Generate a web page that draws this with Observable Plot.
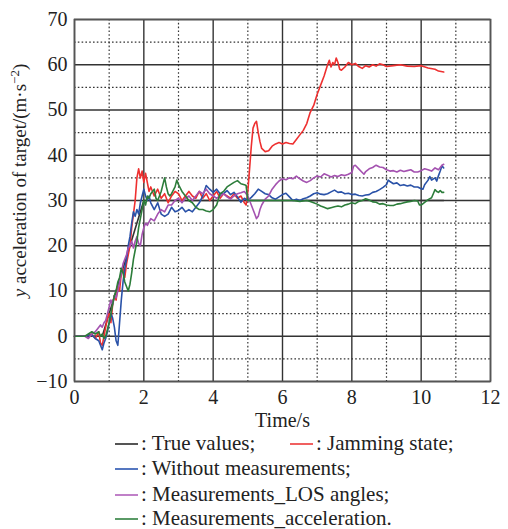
<!DOCTYPE html>
<html>
<head>
<meta charset="utf-8">
<script src="https://cdn.jsdelivr.net/npm/d3@7"></script>
<script src="https://cdn.jsdelivr.net/npm/@observablehq/plot@0.6"></script>
<style>
  body { margin: 0; background: #fff; font-family: "Liberation Serif", "Times New Roman", Times, "DejaVu Serif", serif; }
  #wrap { position: relative; width: 508px; height: 529px; }
  .lg { position: absolute; font-size: 21px; color: #222; white-space: nowrap; line-height: 24px; font-family: "Liberation Serif", "Times New Roman", Times, "DejaVu Serif", serif; }
  .lg span.sw { display: inline-block; width: 23px; height: 0; border-top: 2px solid; vertical-align: middle; margin-right: 3px; position: relative; top: -1px; }
  svg text { font-family: "Liberation Serif", "Times New Roman", Times, "DejaVu Serif", serif; }
</style>
</head>
<body>
<div id="wrap"></div>
<script>
// ---- Data ----
const xTicks = [0, 2, 4, 6, 8, 10, 12];
const yTicks = [-10, 0, 10, 20, 30, 40, 50, 60, 70];
const xMinor = [1, 3, 5, 7, 9, 11];
const yMinor = [-5, 5, 15, 25, 35, 45, 55, 65];

const seriesNames = ["True values", "Jamming state", "Without measurements", "Measurements_LOS angles", "Measurements_acceleration"];
const seriesColors = ["#333333", "#ee3030", "#2a52a8", "#a452b0", "#2c7d3a"];

const trueT = [0, 0.8, 2.0, 10.65];
const trueV = [0, 0, 30, 30];

const jamT = [0,0.3,0.5,0.6,0.7,0.75,0.8,0.85,0.9,0.95,1.0,1.05,1.1,1.15,1.2,1.25,1.3,1.35,1.4,1.45,1.5,1.55,1.6,1.65,1.7,1.75,1.8,1.85,1.9,1.95,2.0,2.05,2.1,2.15,2.2,2.3,2.4,2.5,2.6,2.7,2.8,2.9,3.0,3.1,3.2,3.3,3.4,3.5,3.6,3.7,3.8,3.9,4.0,4.1,4.2,4.3,4.4,4.5,4.6,4.7,4.8,4.9,4.95,5.0,5.05,5.1,5.15,5.2,5.25,5.3,5.35,5.4,5.5,5.6,5.7,5.8,5.9,6.0,6.1,6.2,6.3,6.4,6.5,6.6,6.7,6.8,6.9,7.0,7.1,7.2,7.3,7.35,7.4,7.45,7.5,7.55,7.6,7.65,7.7,7.8,7.9,8.0,8.1,8.2,8.3,8.4,8.5,8.6,8.7,8.8,8.9,9.0,9.2,9.4,9.6,9.8,10.0,10.2,10.4,10.5,10.65];
const jamV = [0,0,0.5,-0.5,1,-1.5,-2,0,2,4,5,3,7,9,8,11,10,14,15,13,16,18,20,24,27,30,35,37,35,36.5,34,36,34,32,33,31,32.5,30.5,31.5,29.5,31,32,31.5,30,31,32,31,30.5,32,30.5,31.5,30,31,32,30.5,31.5,31,30.5,31.5,30.5,31,29.5,29,32,37,42,46,47,47.5,45,43,41.5,40.8,41,42,42.5,42.8,42.5,42.8,42.6,42.5,43.5,44.5,45.5,47,49.5,51,53.5,55.5,57.5,60,61,59.5,60.5,60,61.5,60.5,59,58.8,59.5,60.5,60,60.3,59.6,59.2,59.8,59.5,60,59.7,60.2,60,59.6,59.8,60,59.7,59.6,59.8,59.3,59,58.6,58.4];

const noMeasT = [0,0.3,0.5,0.6,0.7,0.75,0.8,0.85,0.9,0.95,1.0,1.05,1.1,1.15,1.2,1.25,1.3,1.35,1.4,1.45,1.5,1.55,1.6,1.65,1.7,1.75,1.8,1.85,1.9,1.95,2.0,2.05,2.1,2.15,2.2,2.3,2.4,2.5,2.6,2.7,2.8,2.9,3.0,3.1,3.2,3.3,3.4,3.5,3.6,3.7,3.8,3.9,4.0,4.1,4.2,4.3,4.4,4.5,4.6,4.7,4.8,4.9,5.0,5.1,5.2,5.3,5.4,5.5,5.6,5.7,5.8,5.9,6.0,6.1,6.2,6.3,6.4,6.5,6.6,6.7,6.8,6.9,7.0,7.1,7.2,7.3,7.4,7.5,7.6,7.7,7.8,7.9,8.0,8.1,8.2,8.3,8.4,8.5,8.6,8.7,8.8,8.9,9.0,9.05,9.1,9.2,9.3,9.4,9.5,9.6,9.7,9.8,9.9,10.0,10.05,10.1,10.2,10.25,10.3,10.4,10.45,10.5,10.55,10.6,10.65];
const noMeasV = [0,0,0.3,-0.5,-1,-2,-3,-1.5,-0.5,1,3,5,4,2,-1,-2,3,8,12,15,17,20,22,25,27.5,26.5,28,27,29.5,31,32.5,31,30,31,29.5,28,29.5,27,26.5,27,28.5,27.5,27.8,28.5,27.5,28,27.5,28.5,29.5,31,33.3,32.5,31.8,32.5,31.5,31.5,32.2,31.3,31.8,30.8,29.6,30.5,30,30.7,31.5,32.5,32,31.5,31.3,30.6,30.3,30.8,31.3,31.6,30.8,30,30.3,30,30.4,30.6,31,31.5,31.7,31.4,31.3,31.5,31.9,32.3,31.8,31.9,31.5,31.6,31.3,31.4,31.1,31,31.2,31.3,31.8,32,32.4,32.9,33.5,34.5,34.2,33.7,33.9,33.3,33.5,33.2,33.4,33,33,32.6,32.5,33.5,34.5,35.3,34.5,35,34.3,35.5,36.5,37.7,37.2];

const losT = [0,0.3,0.4,0.5,0.6,0.7,0.75,0.8,0.85,0.9,0.95,1.0,1.05,1.1,1.15,1.2,1.25,1.3,1.35,1.4,1.45,1.5,1.55,1.6,1.65,1.7,1.75,1.8,1.85,1.9,1.95,2.0,2.05,2.1,2.2,2.3,2.4,2.5,2.6,2.7,2.8,2.9,3.0,3.1,3.2,3.3,3.4,3.5,3.6,3.7,3.8,3.9,4.0,4.1,4.2,4.3,4.4,4.5,4.6,4.7,4.8,4.9,4.95,5.0,5.05,5.1,5.15,5.2,5.25,5.3,5.35,5.4,5.5,5.6,5.7,5.8,5.9,6.0,6.1,6.2,6.3,6.4,6.5,6.6,6.7,6.8,6.9,7.0,7.1,7.2,7.3,7.4,7.5,7.6,7.7,7.8,7.9,8.0,8.05,8.1,8.2,8.3,8.35,8.4,8.5,8.6,8.7,8.8,8.9,9.0,9.1,9.2,9.3,9.4,9.5,9.6,9.7,9.8,9.9,10.0,10.1,10.2,10.3,10.4,10.5,10.6,10.65];
const losV = [0,0,-0.5,0.5,1,2,2.5,2,3,3.5,5,6.5,8,7,9,8.5,10,12,14,16,17,18,19.5,20,21,19.5,21,22,20.5,20,22.5,24,25,24.5,26,25.5,27,28,27.5,29,29,30,30.5,29.5,30.5,31,30,31,32,31.5,32.5,31.5,31,30.5,31,31.5,30.8,30.3,31,31.5,31.7,32,31.5,31,30,29,28,27,26,26.5,28,29,30.3,31,32.5,33.5,34.3,34.8,34.6,35,34.8,35.4,34.8,34.3,34,34.4,35,35.4,35.2,35.9,35.6,35.2,35.5,35.3,35.7,35.5,35.8,36.2,37.6,37.8,37,36.2,35.8,36.4,37,37.3,37.8,37.4,37.3,36.8,36.5,36.6,36.3,36.7,36.4,36.6,36.8,36.3,36.3,36.6,37,36.8,36.5,37.2,36.8,37.8,38];

const accT = [0,0.3,0.4,0.5,0.6,0.7,0.75,0.8,0.85,0.9,0.95,1.0,1.05,1.1,1.15,1.2,1.25,1.3,1.35,1.4,1.45,1.5,1.55,1.6,1.65,1.7,1.75,1.8,1.85,1.9,1.95,2.0,2.05,2.1,2.15,2.2,2.3,2.35,2.4,2.5,2.55,2.6,2.65,2.7,2.75,2.8,2.9,2.95,3.0,3.1,3.2,3.3,3.4,3.5,3.6,3.7,3.8,3.9,4.0,4.1,4.2,4.3,4.4,4.5,4.6,4.7,4.8,4.9,4.95,5.0,5.5,6.0,6.3,6.5,6.7,6.8,6.9,7.0,7.1,7.2,7.3,7.4,7.5,7.6,7.7,7.8,7.9,8.0,8.1,8.2,8.3,8.4,8.5,8.6,8.7,8.8,8.9,9.0,9.1,9.2,9.3,9.4,9.5,9.6,9.7,9.8,9.9,9.95,10.0,10.1,10.2,10.3,10.35,10.4,10.45,10.5,10.55,10.6,10.65];
const accV = [0,0,0.5,1,0.5,1,0,0.5,-0.5,0,1.5,3,5,7,9,10,12,13,15,14,12,11,10,11.5,14,17,19,21,24,26,28,30,29,31,30.5,31.5,32.5,30.5,30,32,33.5,35,33,31.5,31,31.5,33,34.5,33.5,32,31,30,29.5,28.5,28,28,27.7,27.5,28,29,31.5,32,33,33.5,34,34.4,33.7,33.5,33.3,30,30,30,30,29.8,30,29.8,29.5,29.2,28.8,28.5,28.2,28.4,28.6,28.8,28.6,29,29.2,29.5,29.3,29.8,30,30.4,30.1,29.7,29.6,29.2,29.3,29,28.9,28.9,29.2,29.3,29.5,29.7,29.8,30,29.9,29,29,29.6,30.2,30.6,31.5,32.4,32,31.8,32.2,31.8,31.8];

// ---- Build tidy rows ----
const series = [
  {name: seriesNames[0], t: trueT, v: trueV},
  {name: seriesNames[1], t: jamT, v: jamV},
  {name: seriesNames[2], t: noMeasT, v: noMeasV},
  {name: seriesNames[3], t: losT, v: losV},
  {name: seriesNames[4], t: accT, v: accV}
];
const rows = series.flatMap(s => s.t.map((t, i) => ({series: s.name, t, v: s.v[i]})));

const yLabel = "y acceleration of target/(m·s⁻²)";
const font = "Liberation Serif, Times New Roman, Times, DejaVu Serif, serif";

const plot = Plot.plot({
  width: 508,
  height: 432,
  marginLeft: 74,
  marginRight: 18,
  marginTop: 19,
  marginBottom: 51,
  style: {fontFamily: font, fontSize: "20px", color: "#222", background: "#fff"},
  x: {domain: [0, 12]},
  y: {domain: [-10, 70]},
  color: {domain: seriesNames, range: seriesColors},
  marks: [
    Plot.ruleX(xMinor, {stroke: "#333", strokeWidth: 1.2, strokeDasharray: "1.6,2.2"}),
    Plot.ruleY(yMinor, {stroke: "#333", strokeWidth: 1.2, strokeDasharray: "1.6,2.2"}),
    Plot.ruleX(xTicks, {stroke: "#333", strokeWidth: 1.4}),
    Plot.ruleY(yTicks, {stroke: "#333", strokeWidth: 1.4}),
    Plot.line(rows, {x: "t", y: "v", z: "series", stroke: "series", strokeWidth: 1.6, curve: "linear"}),
    Plot.frame({stroke: "#555", strokeWidth: 1.6}),
    Plot.axisX({ticks: xTicks, tickSize: 0, tickPadding: 8, label: null, fontSize: 20}),
    Plot.axisY({ticks: yTicks, tickSize: 0, tickPadding: 7, label: null, fontSize: 20}),
    Plot.text(["Time/s"], {frameAnchor: "bottom", lineAnchor: "middle", dy: 39, fontSize: 20, fill: "#222"}),
    Plot.text([yLabel], {frameAnchor: "left", textAnchor: "middle", lineAnchor: "middle", dx: -55, dy: -20, rotate: -90, fontSize: 19, fill: "#222"})
  ]
});

// italic y and superscript in the y label
d3.select(plot).selectAll("text").filter(function() { return this.textContent === yLabel; })
  .each(function() {
    const t = d3.select(this);
    t.text(null);
    t.append("tspan").attr("font-style", "italic").text("y");
    t.append("tspan").text(" acceleration of target/(m·s");
    t.append("tspan").attr("font-size", "13px").attr("dy", "-7").text("−2");
    t.append("tspan").attr("dy", "7").text(")");
  });

const wrap = document.getElementById("wrap");
wrap.appendChild(plot);

// ---- Legend (HTML, below the SVG) ----
const legendItems = [
  {i: 0, left: 115, top: 431},
  {i: 1, left: 290, top: 431},
  {i: 2, left: 115, top: 456},
  {i: 3, left: 115, top: 482},
  {i: 4, left: 115, top: 506}
];
const legendColors = ["#555", "#f06060", "#5577c0", "#c080c8", "#5a9a66"];
for (const it of legendItems) {
  const d = document.createElement("div");
  d.className = "lg";
  d.style.left = it.left + "px";
  d.style.top = it.top + "px";
  const sw = document.createElement("span");
  sw.className = "sw";
  sw.style.borderTopColor = legendColors[it.i];
  d.appendChild(sw);
  d.appendChild(document.createTextNode(": " + seriesNames[it.i] + (it.i === 4 ? "." : ";")));
  wrap.appendChild(d);
}
</script>
</body>
</html>
